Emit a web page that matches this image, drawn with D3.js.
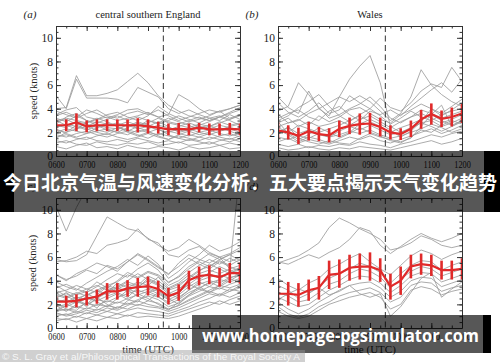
<!DOCTYPE html>
<html><head><meta charset="utf-8">
<script src="https://cdn.jsdelivr.net/npm/d3@7"></script>
<style>body{margin:0;background:#fff}svg{display:block}</style>
</head><body>
<svg id="c" width="500" height="362"></svg>
<script>
const times = ["0600","0620","0640","0700","0720","0740","0800","0820","0840","0900","0920","0940","1000","1020","1040","1100","1120","1140","1200"];
const xTickLabels = ["0600","0700","0800","0900","1000","1100","1200"];
const yTicks = [0,2,4,6,8,10];
const dashTime = "0930";
const letters = ["(a)","(b)","(c)","(d)"];
const titles = ["central southern England","Wales","",""];

const meanA = [2.6,2.6,2.85,2.5,2.6,2.6,2.6,2.6,2.6,2.5,2.4,2.25,2.3,2.25,2.4,2.25,2.25,2.3,2.25];
const errA  = [0.5,0.5,0.75,0.5,0.5,0.5,0.5,0.5,0.6,0.6,0.5,0.5,0.5,0.5,0.4,0.5,0.5,0.5,0.5];
const meanB = [2.15,2.0,1.7,2.1,1.85,1.75,2.3,2.55,2.7,2.75,2.45,2.0,1.85,2.3,3.1,3.55,3.15,3.3,3.6];
const errB  = [0.7,0.6,0.7,0.8,0.6,0.6,0.7,0.7,0.9,0.9,0.8,0.6,0.5,0.7,0.8,0.9,0.7,0.8,0.8];
const meanC = [2.23,2.23,2.3,2.5,2.65,3.1,3.1,3.35,3.45,3.55,3.3,2.7,3.0,4.05,4.4,4.5,4.3,4.65,4.65];
const errC  = [0.45,0.5,0.55,0.6,0.6,0.7,0.7,0.7,0.8,0.8,0.7,0.7,0.7,0.8,0.8,0.8,0.8,0.85,0.9];
const meanD = [2.9,2.9,2.8,3.2,3.4,4.5,4.6,5.1,5.2,5.2,4.9,3.5,4.0,5.2,5.4,5.3,4.9,4.9,5.0];
const errD  = [1.0,1.0,1.0,0.9,1.0,1.2,1.2,1.1,1.1,1.2,1.0,1.1,1.2,1.0,0.9,0.9,0.8,0.8,0.9];

const linesA = [
 [4.0,4.1,6.8,5.1,5.1,5.3,5.6,6.3,7.0,6.2,5.1,4.3,3.8,3.4,3.2,3.0,3.3,3.6,3.9],
 [5.1,4.0,6.5,4.9,4.9,4.9,4.8,4.5,5.8,5.4,5.0,4.0,3.6,3.9,3.5,3.2,3.4,3.1,3.5],
 [3.0,3.2,3.0,2.8,3.1,3.3,3.0,3.2,3.4,3.7,3.3,3.5,5.2,4.7,4.0,3.5,3.8,4.0,4.3],
 [3.8,3.5,3.2,3.6,3.9,3.4,3.2,3.6,3.8,3.5,3.9,3.4,3.0,3.3,3.6,3.9,3.7,4.0,4.3],
 [3.5,3.9,4.1,3.3,3.1,3.5,3.7,3.3,3.0,3.4,4.2,3.6,3.2,2.9,3.1,3.4,3.8,3.2,3.5],
 [3.2,2.9,3.4,3.0,2.8,3.1,3.4,3.0,3.3,3.0,2.7,3.0,3.4,3.1,2.8,3.2,3.0,3.5,3.1],
 [2.9,3.1,2.7,2.5,2.9,2.7,2.6,2.9,2.6,2.8,3.2,2.8,2.6,2.4,2.7,2.5,2.9,2.6,2.8],
 [2.6,2.4,2.9,2.7,2.4,2.6,2.8,2.5,2.9,2.6,2.4,2.2,2.5,2.8,2.5,2.3,2.6,2.4,2.2],
 [2.4,2.7,2.5,2.2,2.6,2.4,2.3,2.6,2.3,2.5,2.2,2.0,2.3,2.1,2.4,2.6,2.2,2.5,2.7],
 [2.2,2.0,2.3,2.5,2.2,2.0,2.4,2.2,2.0,2.3,2.6,2.4,2.1,2.3,2.0,1.8,2.1,2.3,2.0],
 [2.0,2.3,2.1,1.9,2.1,2.3,2.0,1.8,2.2,2.0,1.8,2.1,1.9,1.7,2.0,2.2,1.9,1.7,1.9],
 [1.8,1.6,1.9,2.1,1.8,1.6,1.9,2.1,1.8,1.5,1.9,1.7,1.5,1.8,1.6,1.4,1.7,1.9,1.6],
 [1.6,1.8,1.5,1.4,1.7,1.9,1.6,1.4,1.6,1.9,1.6,1.4,1.7,1.5,1.3,1.6,1.4,1.2,1.5],
 [1.3,1.1,1.4,1.6,1.3,1.2,1.4,1.2,1.5,1.3,1.1,1.3,1.1,1.4,1.2,1.0,1.3,1.5,1.2],
 [1.1,1.3,1.0,0.9,1.2,1.0,0.9,1.1,1.0,1.2,0.9,1.0,1.2,0.9,1.0,1.2,0.9,1.1,0.9],
 [0.8,0.6,0.9,1.1,0.7,0.8,0.6,0.9,0.7,0.6,0.8,0.7,0.5,0.8,0.6,0.7,0.9,0.6,0.7],
 [3.0,2.6,2.3,2.8,3.2,2.9,2.5,2.1,2.5,3.0,2.8,3.2,2.9,2.6,2.2,2.5,2.8,3.1,3.4],
 [2.7,3.3,3.6,3.0,2.6,2.2,2.0,2.4,2.8,2.5,2.9,2.5,2.0,2.2,2.6,2.9,3.3,3.0,2.6],
 [1.5,2.0,2.6,2.3,2.0,1.8,2.2,2.7,2.4,2.1,1.7,1.4,1.8,2.1,1.8,2.0,2.4,2.1,1.8],
 [2.3,1.9,1.6,1.9,2.4,2.8,2.5,2.0,1.7,2.0,2.3,1.8,1.5,1.3,1.6,1.9,1.6,1.4,1.7],
 [3.4,3.7,3.3,3.9,3.6,3.2,3.5,3.9,4.0,3.6,3.3,2.9,2.7,3.0,3.3,3.0,3.3,3.7,4.1]
];
const linesB = [
 [2.5,2.8,3.0,3.6,4.0,4.5,5.0,6.5,7.6,8.5,6.2,2.5,2.0,2.3,2.8,3.0,3.5,3.8,4.0],
 [3.8,4.2,6.2,5.2,4.1,3.2,3.5,4.0,4.4,5.0,4.2,3.2,2.8,3.3,3.9,3.6,3.2,3.5,3.8],
 [5.0,4.1,3.6,5.5,4.0,3.4,5.0,4.6,5.1,4.6,3.8,3.0,3.6,5.0,7.3,6.0,5.2,4.6,4.2],
 [4.5,3.7,3.3,3.8,4.5,3.6,3.9,5.1,4.5,4.0,4.9,4.1,3.8,4.5,5.5,6.1,5.8,7.5,6.3],
 [3.2,3.6,3.9,3.3,3.0,3.8,4.2,3.5,3.0,3.8,3.5,3.9,3.4,4.2,4.9,5.6,6.2,5.4,6.5],
 [3.5,2.8,3.1,2.6,3.4,2.9,3.3,3.9,4.1,3.6,3.1,2.8,3.5,3.9,4.4,4.0,3.6,4.2,4.8],
 [2.8,3.2,2.5,2.9,2.5,2.7,3.0,2.6,3.1,3.4,2.9,2.4,2.9,3.3,3.6,3.2,2.8,3.1,3.5],
 [2.4,2.0,2.6,2.3,2.0,2.3,2.6,3.0,3.4,2.9,2.5,2.0,2.4,2.7,3.1,3.5,3.0,2.6,3.0],
 [2.0,2.4,1.9,2.2,1.8,1.6,2.1,2.5,2.2,2.6,2.2,1.8,2.0,2.4,2.8,2.5,2.1,2.5,2.9],
 [1.6,1.4,1.7,1.5,1.9,1.6,1.8,2.1,1.9,2.2,1.8,1.5,1.7,2.0,2.3,2.7,2.4,2.0,2.3],
 [1.2,1.5,1.1,1.4,1.2,1.0,1.3,1.6,1.4,1.7,1.3,1.1,1.4,1.7,2.0,2.3,1.9,2.2,2.6],
 [1.0,0.8,1.0,0.7,0.9,0.8,1.0,0.9,1.2,1.0,0.9,0.7,1.0,1.2,1.5,1.8,1.6,1.9,2.1],
 [0.7,0.5,0.6,0.8,0.6,0.5,0.7,0.6,0.8,0.7,0.6,0.5,0.7,0.9,1.1,1.3,1.0,1.2,1.5],
 [1.8,2.5,1.5,1.2,1.0,1.3,1.1,1.0,1.5,1.9,1.6,1.4,1.2,1.5,2.5,3.5,4.3,2.5,3.0],
 [2.9,1.9,1.4,1.8,2.4,2.0,1.6,2.0,2.7,3.1,2.7,2.2,1.6,2.1,2.9,4.0,3.4,3.9,4.5],
 [3.0,3.4,4.1,4.6,5.2,4.2,3.4,2.9,3.5,4.0,3.4,2.7,3.2,3.8,3.3,3.0,2.5,2.8,3.2],
 [2.2,1.8,1.2,1.6,1.4,1.1,1.5,1.9,2.4,2.0,1.7,1.3,1.1,1.6,2.2,2.0,2.6,3.0,2.7]
];
const linesC = [
 [10.3,8.2,10.2,11.8,12.5,12.5,12.5,12.5,12.5,12.5,12.5,12.5,12.5,12.5,12.5,12.5,12.5,12.5,12.5],
 [4.5,4.0,4.6,5.0,5.5,5.2,4.8,5.6,6.3,5.8,5.2,4.5,5.5,6.2,5.8,5.5,6.0,5.0,13.5],
 [5.8,5.6,5.7,6.2,7.8,9.4,8.9,8.4,8.2,7.6,7.0,6.5,6.8,7.5,7.0,6.4,6.0,6.3,6.8],
 [5.6,5.7,6.0,6.5,6.3,7.0,7.2,7.5,8.4,7.5,7.2,6.2,6.0,6.6,6.9,6.2,5.8,6.2,6.6],
 [3.9,3.5,3.2,3.8,4.3,4.8,5.2,5.8,5.3,6.1,5.4,4.2,4.8,5.6,6.2,7.0,6.5,6.8,7.3],
 [3.4,3.7,3.3,3.0,3.5,4.1,4.6,4.3,5.0,5.5,4.9,3.8,4.4,5.2,5.7,6.3,6.0,5.6,6.0],
 [3.0,3.2,3.6,3.3,3.0,3.6,3.9,4.5,4.2,4.7,4.4,3.6,4.0,4.7,5.3,5.8,5.4,5.9,5.5],
 [2.8,2.5,2.9,3.3,3.6,3.2,3.5,4.0,4.6,4.1,3.7,3.2,3.5,4.3,4.9,5.2,5.7,5.3,5.8],
 [2.6,2.9,2.5,2.8,3.2,3.6,3.3,3.7,3.5,4.0,3.6,2.9,3.3,4.0,4.6,4.9,4.6,5.0,5.3],
 [2.4,2.2,2.6,2.4,2.7,3.1,3.4,3.1,3.6,3.4,3.1,2.6,3.0,3.7,4.3,4.6,4.2,4.7,4.9],
 [2.2,2.4,2.1,2.5,2.3,2.7,3.0,3.3,3.0,3.3,2.9,2.4,2.8,3.5,4.0,4.3,4.5,4.2,4.6],
 [2.0,1.8,2.2,2.0,2.4,2.2,2.6,2.9,3.2,2.9,2.6,2.2,2.6,3.2,3.7,4.0,3.8,4.3,4.4],
 [1.8,2.0,1.7,2.1,1.9,2.3,2.1,2.5,2.8,3.1,2.7,2.0,2.4,3.0,3.4,3.8,4.1,3.9,4.2],
 [1.6,1.5,1.8,1.6,2.0,1.8,2.2,2.0,2.4,2.7,2.4,1.8,2.1,2.7,3.1,3.5,3.3,3.7,4.0],
 [1.4,1.6,1.3,1.7,1.5,1.9,1.7,2.1,1.9,2.3,2.1,1.6,1.9,2.4,2.8,3.2,3.6,3.4,3.7],
 [1.2,1.1,1.4,1.2,1.6,1.4,1.8,1.6,2.0,1.8,1.7,1.4,1.7,2.1,2.5,2.9,2.7,3.1,3.4],
 [1.0,1.2,0.9,1.3,1.1,1.4,1.2,1.5,1.7,1.5,1.4,1.2,1.5,1.8,2.2,2.5,2.9,2.6,3.0],
 [0.8,0.7,1.0,0.8,1.1,0.9,1.2,1.0,1.3,1.2,1.1,1.0,1.3,1.6,1.9,2.2,2.0,2.4,2.7],
 [0.6,0.8,0.5,0.8,0.6,0.9,0.8,1.1,0.9,1.0,0.9,0.8,1.0,1.3,1.6,1.9,2.3,2.0,2.3],
 [2.5,3.0,2.4,2.0,2.8,3.5,3.0,2.6,3.4,4.2,3.8,3.0,2.5,3.2,3.9,3.5,4.1,4.8,4.4],
 [1.9,1.4,2.0,2.7,2.2,1.8,2.5,3.2,2.7,2.3,3.0,2.5,2.0,2.8,3.3,3.0,3.6,4.2,3.8],
 [3.2,2.7,2.3,2.9,2.5,3.0,3.8,3.4,3.9,3.6,4.3,3.4,3.8,4.5,4.1,4.7,5.2,4.8,5.1],
 [1.5,1.9,2.4,1.8,2.6,2.0,1.6,2.3,2.9,2.5,2.0,1.5,2.2,2.8,3.5,3.0,3.4,3.1,3.6],
 [2.1,1.6,1.5,2.2,1.7,2.5,2.9,2.4,2.2,3.0,3.3,2.7,3.1,3.7,3.3,3.9,3.5,4.0,4.5],
 [4.5,4.1,4.4,4.9,4.6,5.3,5.0,5.6,6.2,5.7,5.1,4.6,5.2,5.9,5.4,5.0,5.6,5.2,4.8],
 [2.9,2.6,3.0,2.7,3.2,2.8,3.4,3.9,3.6,4.4,4.0,3.3,3.7,4.2,4.8,5.4,5.0,4.6,5.1],
 [1.3,1.0,1.2,1.5,1.3,1.7,1.5,1.9,2.3,2.0,1.8,1.6,1.9,2.3,2.7,3.1,2.8,3.3,3.1],
 [3.6,3.1,2.8,3.1,3.9,3.4,4.0,4.7,4.3,4.8,4.5,3.9,4.3,5.0,5.6,5.2,5.8,6.2,5.7]
];
const linesD = [
 [5.5,5.8,6.1,6.6,7.2,8.5,9.3,8.9,8.4,8.0,7.5,6.6,6.8,7.2,7.8,7.5,7.0,6.8,7.0],
 [5.6,5.4,5.8,6.2,5.9,6.4,6.8,7.5,8.5,8.2,7.0,6.3,6.9,7.5,8.0,7.6,7.3,7.6,8.0],
 [4.2,3.6,3.2,3.8,4.2,5.0,5.4,5.9,6.3,5.6,5.0,4.5,5.3,6.1,6.6,6.3,5.8,6.2,6.5],
 [3.6,3.2,2.5,2.9,3.5,4.2,4.6,5.0,5.5,5.2,4.7,3.8,4.6,5.3,5.7,5.6,4.9,5.3,5.6],
 [3.0,2.7,2.2,2.4,3.0,3.7,4.0,4.6,5.0,4.8,4.3,3.4,4.1,4.8,5.2,5.0,4.4,4.7,5.0],
 [2.6,2.2,1.8,2.0,2.6,3.2,3.6,4.1,4.4,4.3,3.8,3.0,3.6,4.4,4.7,4.6,3.9,4.2,4.5],
 [2.2,1.6,1.2,1.6,2.2,2.7,3.2,3.6,3.8,3.9,3.4,2.6,3.1,4.0,4.3,4.2,3.5,3.8,4.1],
 [1.8,1.2,0.9,1.2,1.8,2.2,2.7,3.0,3.2,3.4,3.0,2.2,2.6,3.6,3.9,3.8,3.1,3.4,3.6],
 [2.4,2.9,3.3,3.0,3.4,2.8,3.1,3.6,2.9,2.6,2.9,1.0,1.8,3.0,4.2,4.7,2.6,3.3,3.9],
 [1.4,1.0,0.8,1.0,1.5,2.0,2.3,2.6,2.8,3.0,2.6,1.6,2.0,3.2,3.5,3.3,2.8,3.1,3.3]
];

const toMin = t => (+t.slice(0,2) - 6) * 60 + (+t.slice(2));
const tm = times.map(toMin);
const svg = d3.select("#c");
const SERIF = "Liberation Serif, Times New Roman, serif";
const RED = "#e02a2a";

const panels = [
  {l:56,  r:240, t:26,  b:156, lines:linesA, mean:meanA, err:errA, ylab:true, xlab:false, ylx:37},
  {l:278, r:462, t:26,  b:156, lines:linesB, mean:meanB, err:errB, ylab:false, xlab:false},
  {l:56,  r:240, t:198, b:328, lines:linesC, mean:meanC, err:errC, ylab:true, xlab:true, ylx:35.5},
  {l:278, r:462, t:198, b:328, lines:linesD, mean:meanD, err:errD, ylab:false, xlab:true}
];

panels.forEach((p, i) => {
  const x = d3.scaleLinear().domain([0, 360]).range([p.l, p.r]);
  const y = d3.scaleLinear().domain([0, 11]).range([p.b, p.t]);
  const g = svg.append("g");
  const cid = "clip" + i;
  svg.append("clipPath").attr("id", cid).append("rect")
    .attr("x", p.l).attr("y", p.t).attr("width", p.r - p.l).attr("height", p.b - p.t);
  const line = d3.line().x((d, j) => x(tm[j])).y(d => y(d));
  const plot = g.append("g").attr("clip-path", `url(#${cid})`);
  plot.selectAll("path.gl").data(p.lines).join("path").attr("class","gl")
    .attr("d", line).attr("fill", "none").attr("stroke", "#9c9c9c").attr("stroke-width", 0.85);
  // dashed line
  plot.append("line").attr("x1", x(toMin(dashTime))).attr("x2", x(toMin(dashTime)))
    .attr("y1", p.t).attr("y2", p.b).attr("stroke", "#333").attr("stroke-width", 1)
    .attr("stroke-dasharray", "6,3.5");
  // mean line
  plot.append("path").attr("d", line(p.mean)).attr("fill", "none")
    .attr("stroke", RED).attr("stroke-width", 2.2);
  plot.selectAll("line.eb").data(p.mean).join("line").attr("class","eb")
    .attr("x1", (d, j) => x(tm[j])).attr("x2", (d, j) => x(tm[j]))
    .attr("y1", (d, j) => y(d - p.err[j])).attr("y2", (d, j) => y(d + p.err[j]))
    .attr("stroke", RED).attr("stroke-width", 2.6);

  const xMaj = xTickLabels.map(toMin);
  const yMin = y.ticks(22);
  const styleAxis = a => { a.selectAll("line").attr("stroke", "#333"); a.selectAll("path").attr("stroke", "#333"); };
  // bottom
  const ab = g.append("g").attr("transform", `translate(0,${p.b})`)
    .call(d3.axisBottom(x).tickValues(xMaj).tickFormat((d, k) => xTickLabels[k]).tickSizeInner(-5).tickSizeOuter(0).tickPadding(5.3));
  ab.attr("font-family", SERIF).attr("font-size", 10);
  ab.selectAll("text").attr("fill", "#222").attr("textLength", 16.5).attr("lengthAdjust", "spacingAndGlyphs");
  styleAxis(ab);
  g.append("g").attr("transform", `translate(0,${p.b})`)
    .call(d3.axisBottom(x).tickValues(tm).tickFormat("").tickSizeInner(-2.5).tickSizeOuter(0))
    .call(a => { a.select(".domain").remove(); styleAxis(a); });
  // top
  const at = g.append("g").attr("transform", `translate(0,${p.t})`)
    .call(d3.axisTop(x).tickValues(xMaj).tickFormat("").tickSizeInner(-5).tickSizeOuter(0));
  styleAxis(at);
  g.append("g").attr("transform", `translate(0,${p.t})`)
    .call(d3.axisTop(x).tickValues(tm).tickFormat("").tickSizeInner(-2.5).tickSizeOuter(0))
    .call(a => { a.select(".domain").remove(); styleAxis(a); });
  // left
  const al = g.append("g").attr("transform", `translate(${p.l},0)`)
    .call(d3.axisLeft(y).tickValues(yTicks).tickSizeInner(-5).tickSizeOuter(0).tickPadding(3));
  al.attr("font-family", SERIF).attr("font-size", 11.5);
  al.selectAll("text").attr("fill", "#222");
  styleAxis(al);
  g.append("g").attr("transform", `translate(${p.l},0)`)
    .call(d3.axisLeft(y).tickValues(yMin).tickFormat("").tickSizeInner(-2.5).tickSizeOuter(0))
    .call(a => { a.select(".domain").remove(); styleAxis(a); });
  // right
  const ar = g.append("g").attr("transform", `translate(${p.r},0)`)
    .call(d3.axisRight(y).tickValues(yTicks).tickFormat("").tickSizeInner(-5).tickSizeOuter(0));
  styleAxis(ar);
  g.append("g").attr("transform", `translate(${p.r},0)`)
    .call(d3.axisRight(y).tickValues(yMin).tickFormat("").tickSizeInner(-2.5).tickSizeOuter(0))
    .call(a => { a.select(".domain").remove(); styleAxis(a); });

  // letters and titles
  g.append("text").attr("x", p.l - 26).attr("y", p.t - 8.5).attr("text-anchor", "middle")
    .attr("font-family", SERIF).attr("font-size", 11).attr("font-style", "italic").attr("fill", "#222")
    .text(letters[i]);
  if (titles[i]) g.append("text").attr("x", (p.l + p.r) / 2).attr("y", p.t - 8.5).attr("text-anchor", "middle")
    .attr("font-family", SERIF).attr("font-size", 10.5).attr("fill", "#222").text(titles[i]);
  if (p.ylab) g.append("text").attr("transform", `translate(${p.ylx},${(p.t + p.b) / 2}) rotate(-90)`)
    .attr("text-anchor", "middle").attr("font-family", SERIF).attr("font-size", 10.5).attr("fill", "#222")
    .text("speed (knots)");
  if (p.xlab) g.append("text").attr("x", (p.l + p.r) / 2).attr("y", p.b + 25)
    .attr("text-anchor", "middle").attr("font-family", SERIF).attr("font-size", 11).attr("fill", "#222")
    .text("time (UTC)");
});

// overlays
svg.append("rect").attr("x", 0).attr("y", 151).attr("width", 500).attr("height", 61).attr("fill", "rgba(0,0,0,0.66)");
svg.append("rect").attr("x", 0).attr("y", 151).attr("width", 14).attr("height", 61).attr("fill", "#000");
svg.append("rect").attr("x", 484).attr("y", 151).attr("width", 16).attr("height", 61).attr("fill", "#000");
svg.append("text").attr("x", 250).attr("y", 190).attr("text-anchor", "middle")
  .attr("font-family", "Noto Sans CJK SC").attr("font-weight", "bold").attr("font-size", 19)
  .attr("fill", "#fff").text("今日北京气温与风速变化分析：五大要点揭示天气变化趋势");

svg.append("rect").attr("x", 192).attr("y", 315).attr("width", 291).attr("height", 38).attr("fill", "rgba(0,0,0,0.66)");
svg.append("rect").attr("x", 483).attr("y", 315).attr("width", 8).attr("height", 38).attr("fill", "#000");
svg.append("text").attr("x", 202).attr("y", 342)
  .attr("font-family", "Open Sans").attr("font-weight", "bold").attr("font-size", 17)
  .attr("textLength", 277).attr("lengthAdjust", "spacingAndGlyphs")
  .attr("fill", "#fff").text("www.homepage-pgsimulator.com");

svg.append("rect").attr("x", 0).attr("y", 350).attr("width", 305).attr("height", 12).attr("fill", "rgba(150,150,150,0.45)");
svg.append("text").attr("x", 2).attr("y", 359.5)
  .attr("font-family", "Liberation Sans").attr("font-size", 9.5)
  .attr("textLength", 298).attr("lengthAdjust", "spacingAndGlyphs")
  .attr("fill", "rgba(255,255,255,0.85)").text("© S. L. Gray et al/Philosophical Transactions of the Royal Society A");
</script>
</body></html>
